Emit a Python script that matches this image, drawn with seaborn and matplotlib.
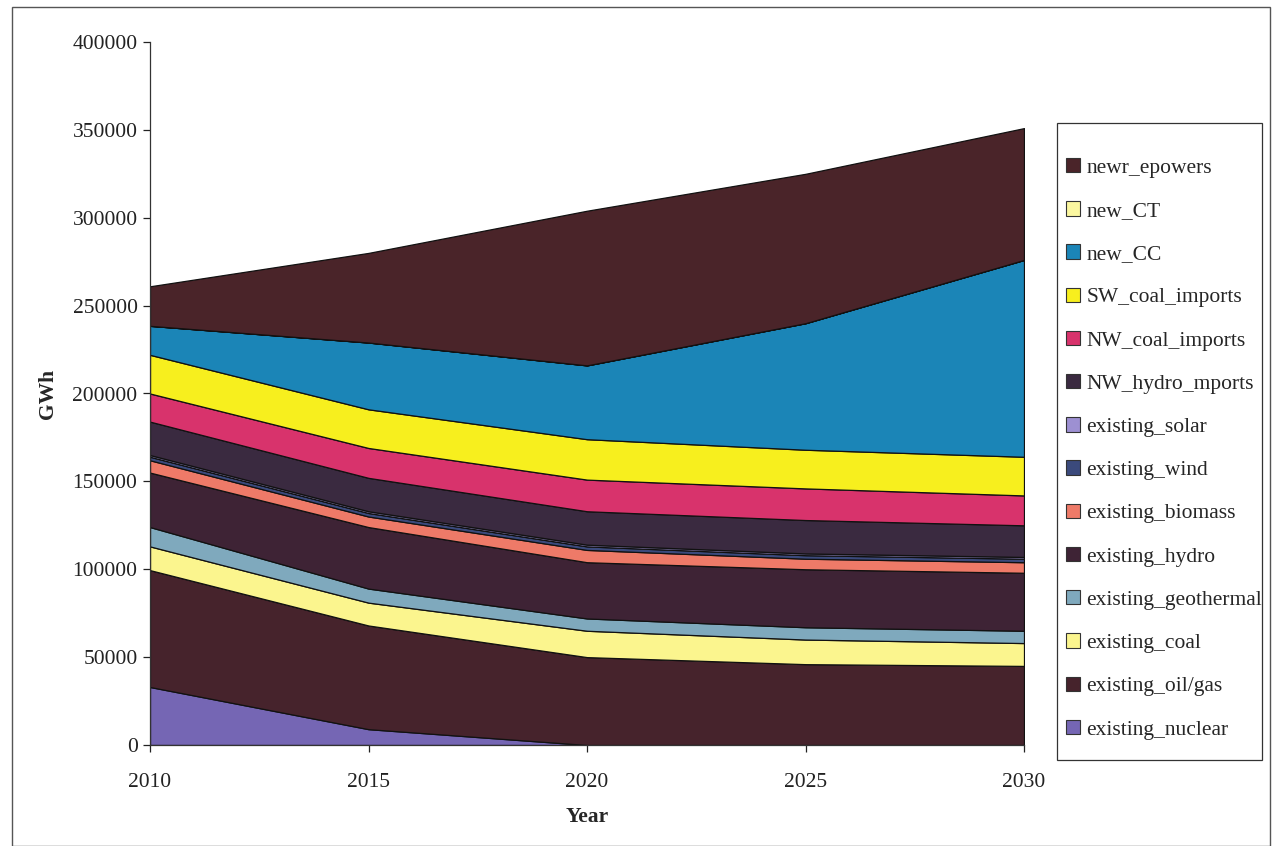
import matplotlib
matplotlib.use("Agg")
import matplotlib.pyplot as plt
import matplotlib.patches as mpatches
import numpy as np
import pandas as pd
import seaborn as sns

# Generation by source (GWh), stacked bottom to top
years = [2010, 2015, 2020, 2025, 2030]

existing_nuclear = [33000, 9000, 0, 0, 0]
existing_oil_gas = [66500, 59000, 50000, 46000, 45000]
existing_coal = [13500, 13000, 15000, 14000, 13000]
existing_geothermal = [11000, 8000, 7000, 7000, 7000]
existing_hydro = [31000, 35000, 32000, 33000, 33000]
existing_biomass = [7000, 6000, 7000, 6000, 6000]
existing_wind = [2000, 2000, 2000, 2000, 2000]
existing_solar = [1000, 1000, 1000, 1000, 1000]
NW_hydro_imports = [19000, 19000, 19000, 19000, 18000]
NW_coal_imports = [16000, 17000, 18000, 18000, 17000]
SW_coal_imports = [22000, 22000, 23000, 22000, 22000]
new_CC = [16500, 38000, 42000, 72000, 112000]
new_CT = [0, 0, 0, 0, 0]
newr_epowers = [22500, 51000, 88000, 85000, 75000]

series_names = [
    "existing_nuclear", "existing_oil/gas", "existing_coal", "existing_geothermal",
    "existing_hydro", "existing_biomass", "existing_wind", "existing_solar",
    "NW_hydro_mports", "NW_coal_imports", "SW_coal_imports", "new_CC", "new_CT",
    "newr_epowers",
]
series_values = [
    existing_nuclear, existing_oil_gas, existing_coal, existing_geothermal,
    existing_hydro, existing_biomass, existing_wind, existing_solar,
    NW_hydro_imports, NW_coal_imports, SW_coal_imports, new_CC, new_CT,
    newr_epowers,
]
series_colors = [
    "#7566b4", "#46232c", "#fbf58e", "#7fa9bd",
    "#3e2335", "#ee7a68", "#3b4a7c", "#9d90d2",
    "#3a2a40", "#d8336c", "#f7ef1e", "#1b85b7", "#fbf7a0",
    "#4a2429",
]

df = pd.DataFrame(dict(zip(series_names, series_values)), index=years)

sns.set_theme(style="white")
plt.rcParams["font.family"] = ["Liberation Serif", "DejaVu Serif"]

W, H = 1277, 846
fig = plt.figure(figsize=(W / 100, H / 100), dpi=100)
ax = fig.add_axes([150 / W, 1 - 745 / H, (1024 - 150) / W, (745 - 42) / H])

ax.stackplot(df.index, [df[c].values for c in series_names], colors=series_colors,
             edgecolor="#111111", linewidth=0.9)

ax.set_xlim(2010, 2030)
ax.set_ylim(0, 400000)
ax.set_xticks(years)
ax.set_yticks(np.arange(0, 400001, 50000))
ax.tick_params(axis="both", labelsize=15.5, colors="#222222", length=5, width=0.9,
               direction="out", left=True, bottom=True, pad=4)
ax.tick_params(axis="x", pad=15)
for side in ["top", "right"]:
    ax.spines[side].set_visible(False)
for side in ["left", "bottom"]:
    ax.spines[side].set_color("#333333")
    ax.spines[side].set_linewidth(0.9)
ax.grid(False)

ax.set_xlabel("Year", fontsize=15.5, fontweight="bold", labelpad=11)
ax.set_ylabel("GWh", fontsize=15.5, fontweight="bold", labelpad=10)

handles = [mpatches.Patch(facecolor=c, edgecolor="#333333", linewidth=0.8)
           for c in series_colors]
leg = ax.legend(handles[::-1], series_names[::-1], loc="upper left",
                bbox_to_anchor=(1066 / W, 1 - 158 / H),
                bbox_transform=fig.transFigure, fontsize=15.5, frameon=False,
                handlelength=0.65, handleheight=0.65, handletextpad=0.3,
                labelspacing=1.09, borderpad=0, borderaxespad=0)

# legend box
fig.patches.append(mpatches.Rectangle((1057 / W, 1 - 760 / H), 205 / W, 637 / H,
                                      transform=fig.transFigure, fill=False,
                                      edgecolor="#333333", linewidth=0.9))

# thin outer border round the whole chart
fig.patches.append(mpatches.Rectangle((12 / W, 0.0), 1258 / W, 1 - 7 / H,
                                      transform=fig.transFigure, fill=False,
                                      edgecolor="#555555", linewidth=1.0))

fig.savefig("out.png", dpi=100)
